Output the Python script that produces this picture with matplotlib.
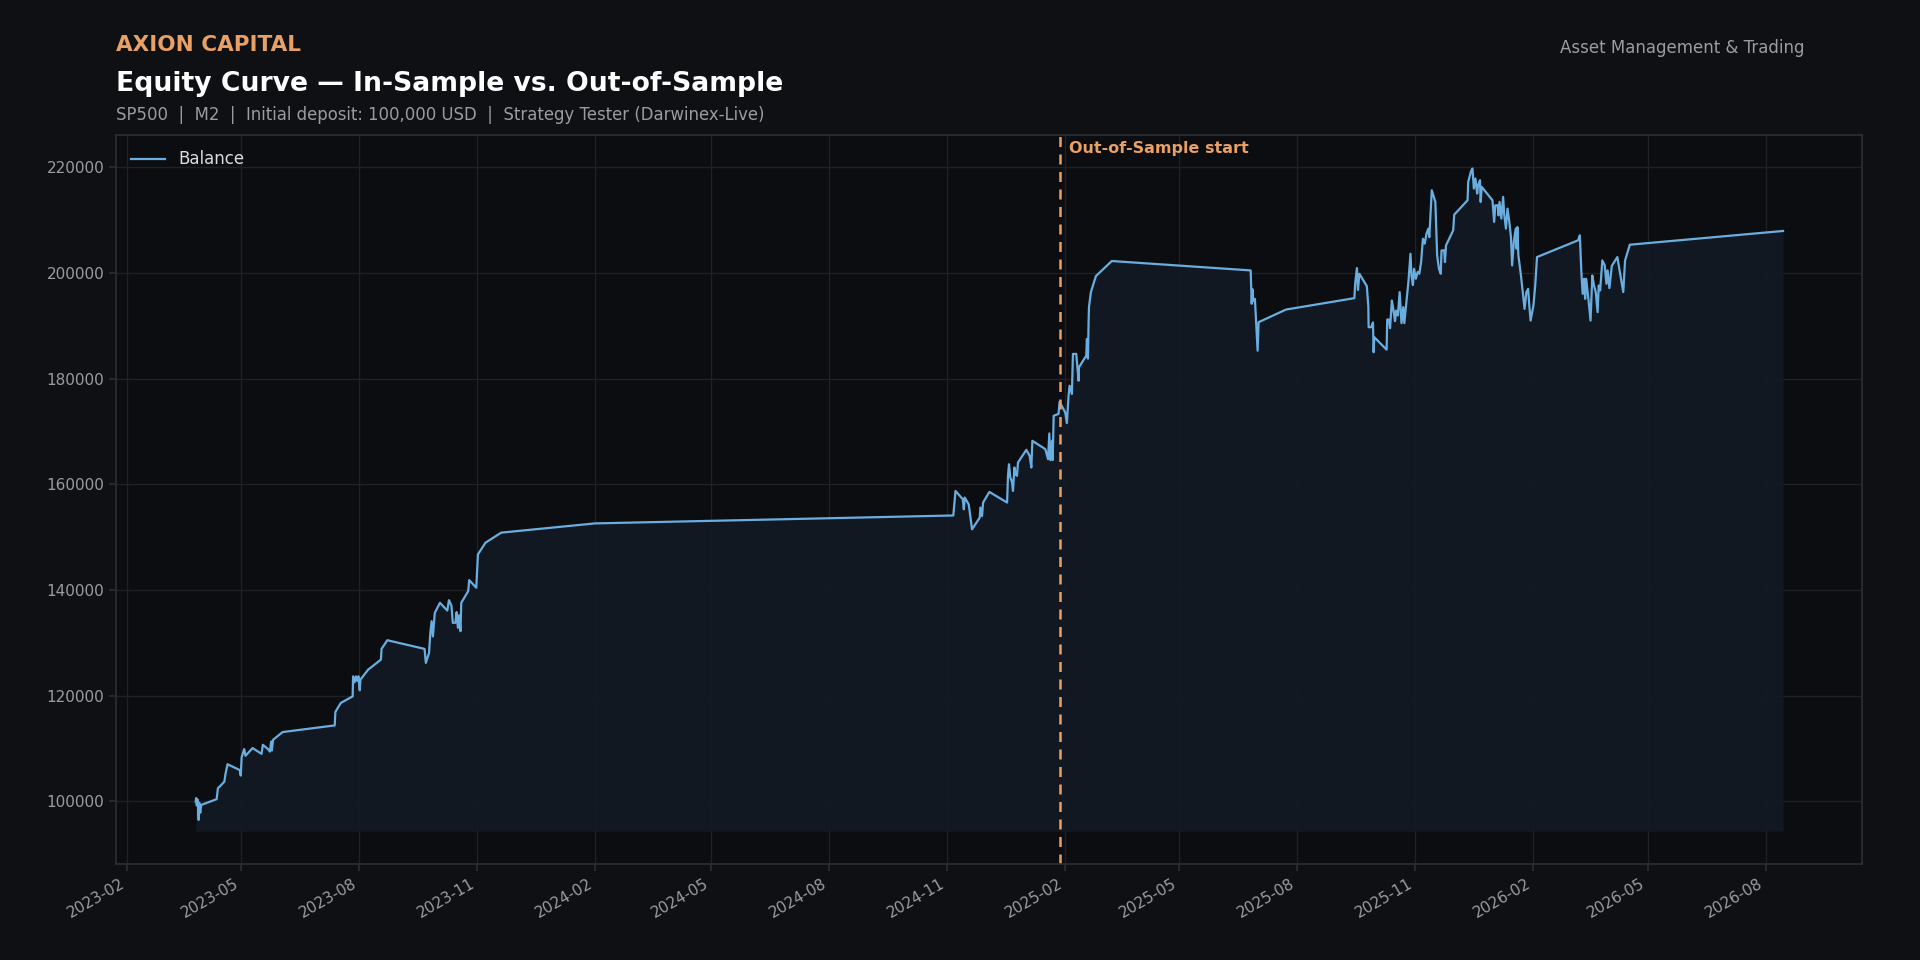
import pandas as pd
import matplotlib
matplotlib.use("Agg")
import matplotlib.pyplot as plt
import matplotlib.dates as mdates
import matplotlib.transforms as mtransforms

# --- data (days counted from 2023-02-01, balance in USD) ---
base_date = "2023-02-01"
oos_start = "2025-01-28"

days = [
    53.7, 54.0, 54.5, 55.2, 56.0, 56.5, 57.2, 58.0, 70.0, 71.0, 72.5, 76.0, 77.0, 78.5,
    88.0, 88.8, 89.5, 91.5, 92.5, 98.0, 105.0, 106.0, 110.0, 111.5, 112.5, 113.0, 114.0,
    121.4, 162.0, 162.5, 166.7, 176.0, 176.3, 177.5, 178.5, 179.5, 180.5, 181.5, 182.0,
    188.0, 198.0, 198.5, 203.0, 232.0, 233.0, 235.5, 236.5, 237.5, 238.5, 240.0, 244.0,
    249.7, 251.0, 253.0, 254.0, 256.0, 257.0, 258.0, 259.0, 260.0, 260.6, 266.0, 266.8,
    272.3, 273.6, 279.5, 291.7, 364.8, 644.0,
    645.7, 651.4, 652.2, 652.9, 656.0, 658.6, 664.6, 665.1, 666.4, 667.2, 672.1, 685.9,
    686.6, 687.4, 688.4, 689.7, 690.5, 691.6, 692.6, 693.6, 694.4, 700.9, 703.5, 704.8,
    705.6, 715.7, 717.8, 718.8, 719.6, 720.9, 721.4, 722.2, 726.0, 726.8, 731.2, 732.5,
    733.8, 734.6, 736.4, 737.2, 739.8, 741.6, 741.9, 747.6, 748.1, 748.9, 749.4, 749.7,
    751.2, 755.1, 767.5, 875.7, 876.5, 877.0, 877.7, 879.0, 881.1, 881.9, 903.2,
    956.5, 957.1, 958.5, 959.3, 960.4, 966.2, 967.4, 967.6, 969.6, 971.0, 971.5, 972.0,
    981.6, 982.1, 983.5, 984.3, 985.7, 986.8, 988.2, 989.0, 990.4, 991.8, 993.2, 994.6,
    995.4, 998.7, 1000.2, 1001.0, 1002.1, 1003.0, 1004.4, 1005.8, 1007.1, 1008.5, 1009.9,
    1011.3, 1012.7, 1014.1, 1014.9, 1016.8, 1019.6, 1021.0, 1022.4, 1023.8, 1024.4,
    1026.5, 1027.1, 1027.9, 1033.5, 1034.3, 1044.7, 1045.2, 1047.4, 1048.5, 1049.6,
    1050.8, 1052.2, 1052.9, 1054.4, 1054.9, 1055.7, 1064.1, 1065.4, 1066.3, 1068.2,
    1068.8, 1069.6, 1071.0, 1072.4, 1073.2, 1074.6, 1075.8, 1077.1, 1078.5, 1079.4,
    1080.7, 1082.2, 1082.9, 1083.5, 1084.3, 1086.3, 1089.1, 1090.5, 1091.9, 1092.7,
    1093.8, 1096.0, 1097.4, 1098.8, 1130.8, 1132.2, 1132.7, 1133.5, 1134.4, 1135.5,
    1136.3, 1137.1, 1139.1, 1140.5, 1141.9, 1143.2, 1144.6, 1146.0, 1146.9, 1148.0,
    1149.7, 1151.6, 1152.9, 1153.8, 1155.2, 1157.1, 1161.4, 1166.0, 1167.4, 1171.1,
    1290.5,
]

balance = [
    99900, 100600, 99200, 100300, 96450, 99700, 97800, 99300, 100380, 102470, 102800, 103700, 105300, 107000,
    105900, 104860, 108350, 109870, 108600, 110060, 108970, 110680, 109870, 109400, 111300, 109600, 111630,
    113090, 114350, 116890, 118600, 119850, 123640, 122500, 123640, 122800, 123640, 121000, 123000,
    124900, 126800, 128840, 130480, 128840, 126190, 128080, 131880, 134080, 131200, 135670, 137570,
    136100, 138060, 137000, 133780, 133780, 135800, 132830, 135200, 132190, 137570, 139770, 141860,
    140420, 146740, 148950, 150850, 152600, 154100,
    158750, 157170, 155270, 157500, 156220, 151480, 153700, 155600, 154000, 156550, 158560, 156550,
    161600, 163800, 161290, 160500, 158750, 163190, 161900, 161600, 164140, 166530, 165390, 163190,
    168240, 166660, 164760, 169640, 164580, 168240, 164580, 172980, 173340, 175640, 173620, 171600,
    176780, 178670, 177100, 184690, 184690, 179620, 182160, 184370, 187530, 183800, 190700, 193550,
    196400, 199430, 202280, 200500, 194180, 196970, 194700, 195120, 185310, 190700, 193090,
    195250, 197970, 200950, 196800, 199870, 197530, 193550, 189750, 189750, 190650, 185010, 187860,
    185500, 191200, 191200, 189560, 194800, 193220, 190900, 192900, 191960, 196400, 190520, 193550,
    190520, 198600, 203660, 199530, 197720, 200810, 198920, 200190, 199870, 202090, 206510,
    205560, 207460, 208410, 206800, 215680, 213470, 203340, 200810, 199870, 204290,
    204290, 202090, 205240, 208090, 211060, 213780, 217270, 219300, 219800, 216000,
    217900, 215050, 216620, 217570, 213470, 216320, 213780, 209680, 212830, 212830,
    210930, 213470, 210310, 214420, 211250, 208410, 212200, 209980, 206830, 201440,
    205880, 208410, 204610, 208720, 203340, 199540, 193220, 196400, 197020, 194180,
    191000, 193850, 197650, 203030, 206200, 207140, 203990, 199540, 196070, 198920,
    195120, 198920, 194500, 191000, 199540, 197650, 196400, 192600, 197650, 196700,
    202400, 201440, 197970, 200500, 197150, 201370, 203030, 196400, 202370, 205370,
    207970,
]

title_brand = "AXION CAPITAL"
title_main = "Equity Curve \u2014 In-Sample vs. Out-of-Sample"
title_sub = "SP500  |  M2  |  Initial deposit: 100,000 USD  |  Strategy Tester (Darwinex-Live)"
title_right = "Asset Management & Trading"

# colours
BG = "#0e1014"
AX_BG = "#0c0d10"
LINE = "#6aaee0"
FILL = "#131a24"
ORANGE = "#e8a065"
GRID = "#1e2127"
SPINE = "#2c2f35"
MUTED = "#9a9ca0"

dates = pd.Timestamp(base_date) + pd.to_timedelta(days, unit="D")
oos = pd.Timestamp(oos_start)

fig = plt.figure(figsize=(19.2, 9.6), dpi=100, facecolor=BG)
ax = fig.add_axes([0.0606, 0.0997, 0.9094, 0.7593])
ax.set_facecolor(AX_BG)

base = min(balance) * 0.978
ax.fill_between(dates, balance, base, color=FILL, alpha=0.9, linewidth=0)
ax.plot(dates, balance, color=LINE, linewidth=1.6, label="Balance")

ax.axvline(oos, color=ORANGE, linestyle=(0, (4, 3)), linewidth=1.8)
trans = mtransforms.blended_transform_factory(ax.transData, ax.transAxes)
ax.text(oos + pd.Timedelta(days=7), 0.982, "Out-of-Sample start", transform=trans,
        color=ORANGE, fontsize=11.5, fontweight="bold", va="center", ha="left")

ax.xaxis.set_major_locator(mdates.MonthLocator(bymonth=[2, 5, 8, 11]))
ax.xaxis.set_major_formatter(mdates.DateFormatter("%Y-%m"))
plt.setp(ax.get_xticklabels(), rotation=30, ha="right")

ax.grid(True, color=GRID, linewidth=1.0)
ax.set_axisbelow(True)
for s in ax.spines.values():
    s.set_color(SPINE)
    s.set_linewidth(1.2)
ax.tick_params(colors=SPINE, labelcolor=MUTED, labelsize=11, length=5, width=1.2)

leg = ax.legend(loc="upper left", frameon=False, fontsize=12)
for t in leg.get_texts():
    t.set_color("#dcdcdc")

fig.text(0.0604, 0.953, title_brand, color=ORANGE, fontsize=15.5, fontweight="bold", va="center")
fig.text(0.0604, 0.913, title_main, color="white", fontsize=19.2, fontweight="bold", va="center")
fig.text(0.0604, 0.880, title_sub, color=MUTED, fontsize=11.9, va="center")
fig.text(0.940, 0.950, title_right, color=MUTED, fontsize=12, va="center", ha="right")

fig.savefig("out.png", dpi=100, facecolor=BG)
